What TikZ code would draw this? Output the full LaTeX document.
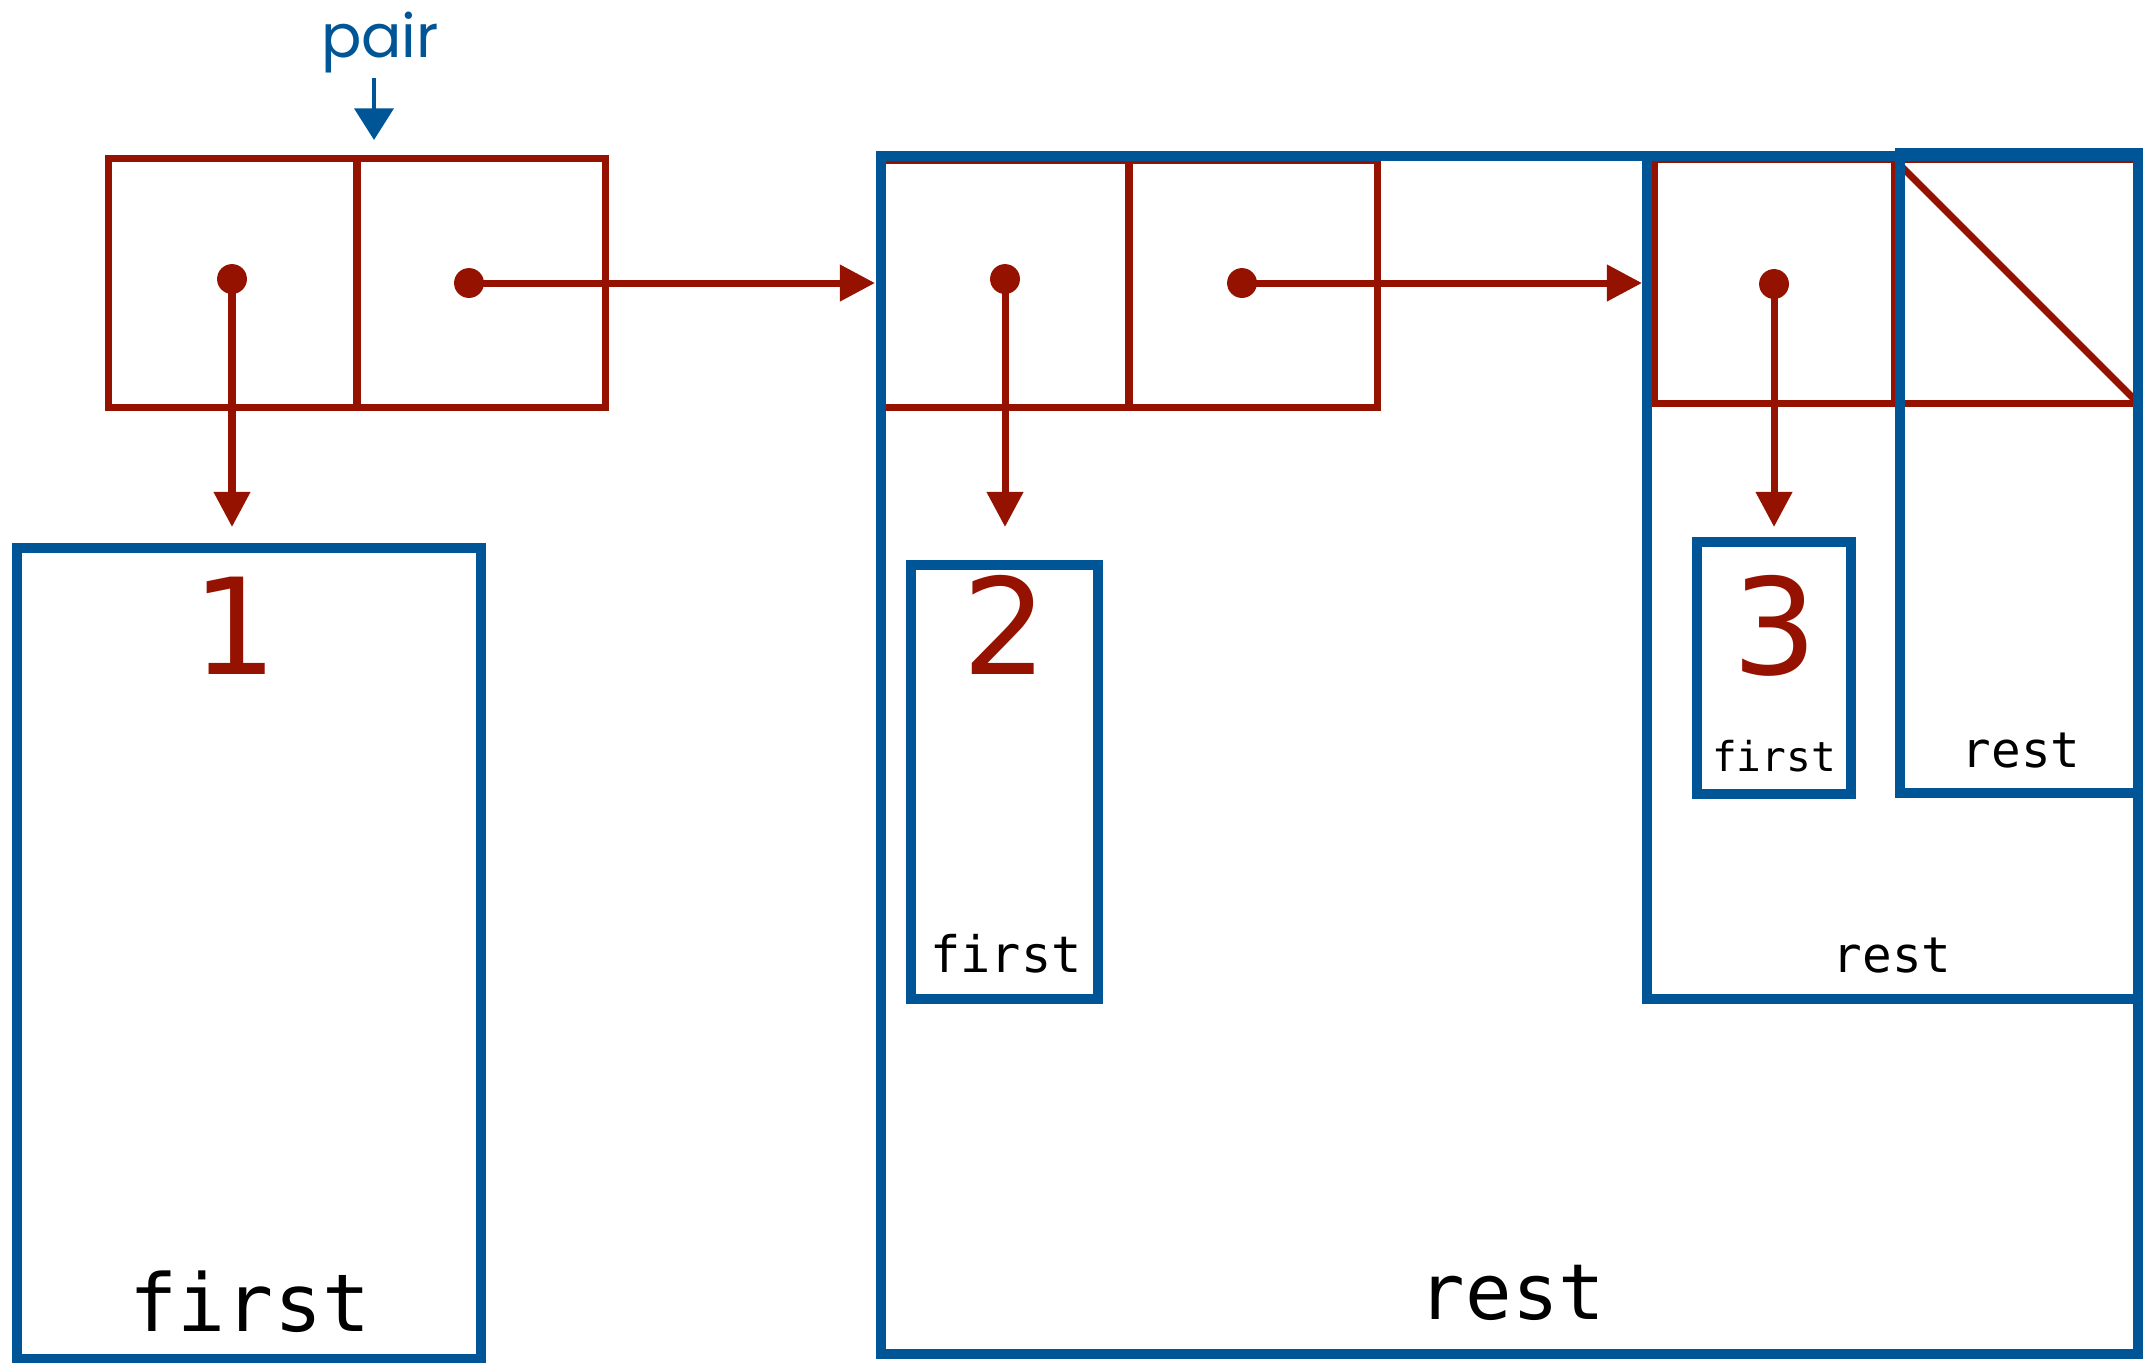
\documentclass[tikz,border=0pt]{standalone}
\usepackage{fontspec}
\usetikzlibrary{arrows.meta}
\newfontfamily\numfont{DejaVu Sans}
\newfontfamily\lblfont{DejaVu Sans Mono}
\newfontfamily\handfont{Poppins}
\definecolor{cred}{RGB}{150,18,0}
\definecolor{cblue}{RGB}{0,85,150}
\begin{document}
\begin{tikzpicture}[x=0.01cm,y=-0.01cm,
  redcell/.style={draw=cred, line width=2pt, rectangle, inner sep=0pt, outer sep=0pt},
  bluebox/.style={draw=cblue, line width=2.85pt, rectangle, inner sep=0pt, outer sep=0pt},
  dotnode/.style={circle, fill=cred, inner sep=0pt, outer sep=0pt, minimum size=8.5pt},
  ptr/.style={draw=cred, line width=2pt, -{Triangle[length=10pt,width=10pt]}},
  numlbl/.style={text=cred, font=\numfont\fontsize{38}{40}\selectfont, inner sep=0pt, anchor=base},
  biglbl/.style={font=\lblfont\fontsize{22.7}{26}\selectfont, inner sep=0pt, anchor=base},
  midlbl/.style={font=\lblfont\fontsize{14.3}{17}\selectfont, inner sep=0pt, anchor=base},
  smalllbl/.style={font=\lblfont\fontsize{11.7}{14}\selectfont, inner sep=0pt, anchor=base}
]
\useasboundingbox (0,0) rectangle (2143,1362);

% pair cells
\node[redcell, minimum width=2.48cm, minimum height=2.48cm] (p1a) at (233,283) {};
\node[redcell, minimum width=2.48cm, minimum height=2.48cm] (p1b) at (481,283) {};
\node[redcell, minimum width=2.46cm, minimum height=2.46cm] (p2a) at (1006,284) {};
\node[redcell, minimum width=2.48cm, minimum height=2.46cm] (p2b) at (1253,284) {};
\node[redcell, minimum width=2.40cm, minimum height=2.43cm] (p3a) at (1775,281.5) {};
\node[redcell, minimum width=2.43cm, minimum height=2.43cm] (p3b) at (2016.5,281.5) {};
\draw[draw=cred, line width=2pt] (p3b.north west) -- (p3b.south east);

% dots
\node[dotnode] (d1) at (232,279) {};
\node[dotnode] (d2) at (469,283) {};
\node[dotnode] (d3) at (1005,279) {};
\node[dotnode] (d4) at (1242,283) {};
\node[dotnode] (d5) at (1774,284) {};

% arrow tips
\coordinate (t1) at (232,527);
\coordinate (t2) at (875,283);
\coordinate (t3) at (1005,527);
\coordinate (t4) at (1642,283);
\coordinate (t5) at (1774,527);

\draw[ptr] (d1.center) -- (t1);
\draw[ptr] (d2.center) -- (t2);
\draw[ptr] (d3.center) -- (t3);
\draw[ptr] (d4.center) -- (t4);
\draw[ptr] (d5.center) -- (t5);

% blue boxes
\node[bluebox, minimum width=4.64cm, minimum height=8.11cm] (b1) at (249,953.5) {};
\node[bluebox, minimum width=12.57cm, minimum height=11.98cm] (big) at (1509.5,755) {};
\node[bluebox, minimum width=4.91cm, minimum height=8.43cm] (mid) at (1892.5,577.5) {};
\node[bluebox, minimum width=2.38cm, minimum height=6.40cm] (inner) at (2019,473) {};
\node[bluebox, minimum width=1.87cm, minimum height=4.34cm] (b2) at (1004.5,782) {};
\node[bluebox, minimum width=1.54cm, minimum height=2.52cm] (b3) at (1774,668) {};

% numbers
\node[numlbl] (n1) at (235,674) {1};
\node[numlbl] (n2) at (1005,674) {2};
\node[numlbl] (n3) at (1775,674) {3};

% labels
\node[biglbl] (l1) at (250,1331) {first};
\node[biglbl, font=\lblfont\fontsize{22}{26}\selectfont] (l2) at (1512,1319) {rest};
\node[midlbl] (l3) at (1006,972) {first};
\node[midlbl, font=\lblfont\fontsize{14}{17}\selectfont] (l4) at (1892,972) {rest};
\node[smalllbl] (l5) at (1774,771) {first};
\node[midlbl, font=\lblfont\fontsize{14}{17}\selectfont] (l6) at (2021,767) {rest};

% pair label
\node[text=cblue, font=\handfont\fontsize{17}{19}\selectfont, inner sep=0pt, anchor=base] (pl) at (380,57) {pair};
\coordinate (pt) at (374,140);
\draw[draw=cblue, line width=1.4pt, -{Triangle[length=9pt,width=11pt]}] (374,78) -- (pt);
\end{tikzpicture}
\end{document}
